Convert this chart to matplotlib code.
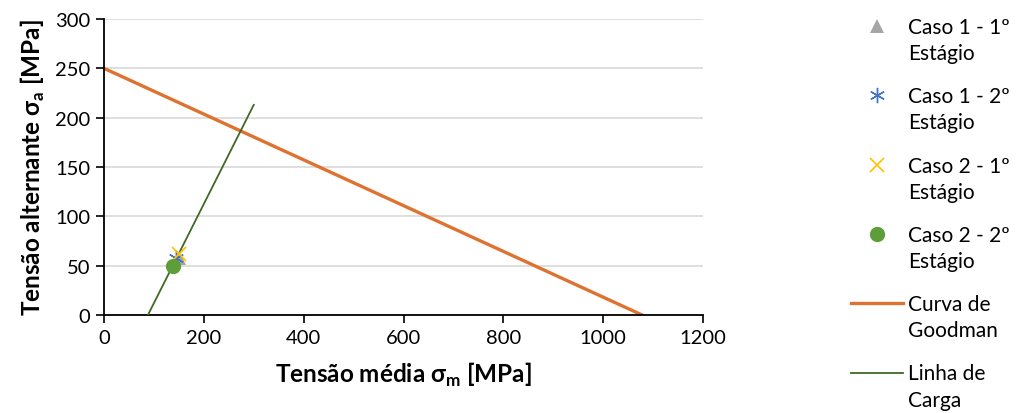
import matplotlib
matplotlib.use('Agg')
import matplotlib.pyplot as plt
from matplotlib.lines import Line2D

plt.rcParams['font.family'] = ['Lato', 'DejaVu Sans']
plt.rcParams['mathtext.fontset'] = 'custom'
plt.rcParams['mathtext.rm'] = 'Lato'
plt.rcParams['mathtext.bf'] = 'Lato:bold'

# data
goodman_x = [0, 1078]
goodman_y = [250, 0]
carga_x = [88, 300]
carga_y = [0, 213]

pontos = {
    'Caso 1 - 1º\nEstágio': (150, 58),
    'Caso 1 - 2º\nEstágio': (145, 58),
    'Caso 2 - 1º\nEstágio': (151, 62),
    'Caso 2 - 2º\nEstágio': (138, 50),
}
estilos = {
    'Caso 1 - 1º\nEstágio': dict(marker='^', color='#A5A5A5', ms=10, mew=0),
    'Caso 1 - 2º\nEstágio': dict(marker=(6, 2, 0), color='#4472C4', ms=11, mew=1.0),
    'Caso 2 - 1º\nEstágio': dict(marker='x', color='#FFC000', ms=10, mew=1.2),
    'Caso 2 - 2º\nEstágio': dict(marker='o', color='#5E9E3A', ms=11, mew=0),
}

xticks = [0, 200, 400, 600, 800, 1000, 1200]
yticks = [0, 50, 100, 150, 200, 250, 300]

fig = plt.figure(figsize=(10.16, 4.14), dpi=100)
ax = fig.add_axes([104/1016, 98/414, 599/1016, 296/414])

ax.plot(goodman_x, goodman_y, color='#DE7230', lw=2.4, zorder=2)
ax.plot(carga_x, carga_y, color='#3E6A26', lw=1.3, zorder=3)
for lab, (x, y) in pontos.items():
    ax.plot([x], [y], ls='none', zorder=4, **estilos[lab])

ax.set_xlim(0, 1200)
ax.set_ylim(0, 300)
ax.set_xticks(xticks)
ax.set_yticks(yticks)
ax.tick_params(labelsize=14.5, length=6, width=1.2, color='black', pad=4)
ax.yaxis.grid(True, color='#D9D9D9', lw=1.2)
ax.set_axisbelow(True)
for s in ['top', 'right']:
    ax.spines[s].set_visible(False)
for s in ['left', 'bottom']:
    ax.spines[s].set_linewidth(1.3)

ax.set_xlabel('Tensão média σ$_\\mathbf{m}$ [MPa]', fontsize=17.5,
              fontweight='bold', labelpad=10)
ax.set_ylabel('Tensão alternante σ$_\\mathbf{a}$ [MPa]', fontsize=17.5,
              fontweight='bold', labelpad=6)

# legend drawn by hand so the handles sit on the first text line
W, H = 1016, 414
y0 = 27
for i, lab in enumerate(pontos):
    yy = (H - (y0 + 69.3 * i)) / H
    fig.add_artist(Line2D([877/W], [yy], ls='none', transform=fig.transFigure,
                          **estilos[lab]))
    fig.text(908/W, yy + 9/H, lab, fontsize=15, va='top', ha='left',
             linespacing=1.38)
linhas = [('Curva de\nGoodman', '#DE7230', 2.4), ('Linha de\nCarga', '#3E6A26', 1.3)]
for j, (lab, c, lw) in enumerate(linhas):
    yy = (H - (y0 + 69.3 * (4 + j))) / H
    fig.add_artist(Line2D([851/W, 903/W], [yy, yy], color=c, lw=lw,
                          transform=fig.transFigure))
    fig.text(908/W, yy + 9/H, lab, fontsize=15, va='top', ha='left',
             linespacing=1.38)

fig.savefig('out.png', dpi=100)
